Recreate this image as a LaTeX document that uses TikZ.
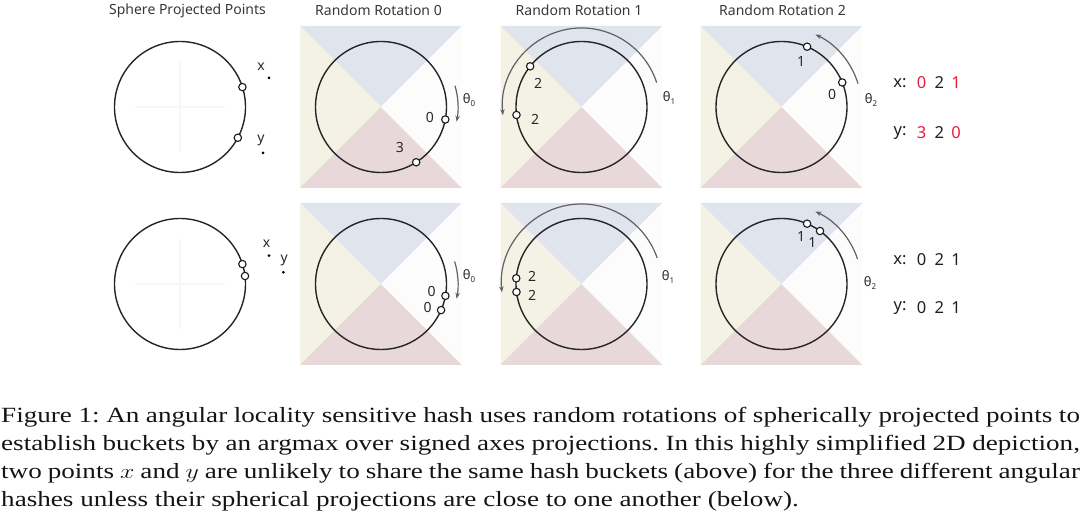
\documentclass[tikz,border=0pt]{standalone}
\usepackage{fontspec}
\setmainfont{Liberation Serif}
\newfontfamily\uifont{Noto Sans}
\usetikzlibrary{arrows.meta}
\definecolor{qTop}{RGB}{224,228,237}
\definecolor{qLeft}{RGB}{244,242,229}
\definecolor{qBot}{RGB}{233,216,217}
\definecolor{qRight}{RGB}{252,252,252}
\definecolor{titlegray}{RGB}{55,55,55}
\definecolor{labgray}{RGB}{40,40,40}
\definecolor{hashred}{RGB}{232,28,58}
\newcommand\bgquads[2]{%
  \fill[qTop] (#1-81,#2+81) -- (#1+81,#2+81) -- (#1,#2) -- cycle;
  \fill[qLeft] (#1-81,#2+81) -- (#1-81,#2-81) -- (#1,#2) -- cycle;
  \fill[qBot] (#1-81,#2-81) -- (#1+81,#2-81) -- (#1,#2) -- cycle;
  \fill[qRight] (#1+81,#2+81) -- (#1+81,#2-81) -- (#1,#2) -- cycle;}
\newcommand\thsub[1]{θ{\fontsize{8}{8}\selectfont\raisebox{-2.5pt}{#1}}}
\begin{document}
\begin{tikzpicture}[x=1pt,y=1pt,
  title/.style={font=\uifont\fontsize{14}{16}\selectfont, text=titlegray, inner sep=0},
  ring/.style={line width=1.4pt, draw=black!85},
  pt/.style={circle, draw=black!90, fill=white, line width=1.1pt, minimum size=7.4pt, inner sep=0},
  dotm/.style={circle, fill=black, minimum size=3pt, inner sep=0},
  lab/.style={font=\uifont\fontsize{14}{16}\selectfont, text=labgray, inner sep=0},
  thlab/.style={font=\uifont\fontsize{13}{15}\selectfont, text=labgray, inner sep=0},
  rot/.style={draw=black!62, line width=1.2pt, -{Stealth[length=6pt,width=4.5pt]}},
  faint/.style={draw=black!3, line width=1.4pt},
  hash/.style={font=\uifont\fontsize{16.5}{18}\selectfont, text=black!88, inner sep=0},
  hred/.style={hash, text=hashred}]
\useasboundingbox (0,0) rectangle (1080,516);

% titles
\node[title] (t1) at (187.5,505.5) {Sphere Projected Points};
\node[title] (t2) at (378.5,505.5) {Random Rotation 0};
\node[title] (t3) at (579,505.5) {Random Rotation 1};
\node[title] (t4) at (782.5,505.5) {Random Rotation 2};

% backgrounds
\bgquads{381}{409}
\bgquads{581.5}{409}
\bgquads{781.5}{409}
\bgquads{381}{232}
\bgquads{581.5}{232}
\bgquads{781.5}{232}

% centers
\coordinate (c1t) at (180,409);
\coordinate (c2t) at (381,409);
\coordinate (c3t) at (581.5,409);
\coordinate (c4t) at (781.5,409);
\coordinate (c1b) at (180,232);
\coordinate (c2b) at (381,232);
\coordinate (c3b) at (581.5,232);
\coordinate (c4b) at (781.5,232);

% faint crosses in panel 1
\draw[faint] (135,409) -- (225,409) (180,364) -- (180,454);
\draw[faint] (135,232) -- (225,232) (180,187) -- (180,277);

% rings
\foreach \c in {c1t,c2t,c3t,c4t,c1b,c2b,c3b,c4b}
  \draw[ring] (\c) circle[radius=65.5];

% ---- top row ----
% panel 1
\path (c1t) ++(17.7:65.5) node[pt] (x1t) {};
\path (c1t) ++(-28:65.5) node[pt] (y1t) {};
\node[dotm] (xd1t) at (269,438) {};
\node[lab] (xl1t) at (261,449) {x};
\node[dotm] (yd1t) at (263,363) {};
\node[lab] (yl1t) at (261,376) {y};
% panel 2
\draw[rot] (c2t) ++(16:77) arc[start angle=16, end angle=-11, radius=77];
\node[thlab] (th2t) at (469,416) {\thsub{0}};
\path (c2t) ++(-11:65.5) node[pt] (x2t) {};
\path (c2t) ++(-57.5:65.5) node[pt] (y2t) {};
\node[lab] (xl2t) at (430,398) {0};
\node[lab] (yl2t) at (400,368) {3};
% panel 3
\draw[rot] (c3t) ++(18:79) arc[start angle=18, end angle=186, radius=79];
\node[thlab] (th3t) at (669,418) {\thsub{1}};
\path (c3t) ++(187:65.5) node[pt] (x3t) {};
\path (c3t) ++(141.6:65.5) node[pt] (y3t) {};
\node[lab] (yl3t) at (538,433) {2};
\node[lab] (xl3t) at (535,397) {2};
% panel 4
\draw[rot] (c4t) ++(17:80) arc[start angle=17, end angle=65, radius=80];
\node[thlab] (th4t) at (871,416) {\thsub{2}};
\path (c4t) ++(67:65.5) node[pt] (x4t) {};
\path (c4t) ++(22:65.5) node[pt] (y4t) {};
\node[lab] (xl4t) at (801,454) {1};
\node[lab] (yl4t) at (832,421) {0};
% hashes
\node[hash] (hx1) at (900,433) {x:};
\node[hred] (hx1a) at (921.7,433) {0};
\node[hash] (hx1b) at (939.3,433) {2};
\node[hred] (hx1c) at (956,433) {1};
\node[hash] (hy1) at (900,383) {y:};
\node[hred] (hy1a) at (921.7,383) {3};
\node[hash] (hy1b) at (939.3,383) {2};
\node[hred] (hy1c) at (956,383) {0};

% ---- bottom row ----
% panel 1
\path (c1b) ++(17.7:65.5) node[pt] (x1b) {};
\path (c1b) ++(7:65.5) node[pt] (y1b) {};
\node[dotm] (xd1b) at (269,260.3) {};
\node[lab] (xl1b) at (266.7,272) {x};
\node[dotm] (yd1b) at (283.3,243.7) {};
\node[lab] (yl1b) at (284.3,256) {y};
% panel 2
\draw[rot] (c2b) ++(17:77) arc[start angle=17, end angle=-11, radius=77];
\node[thlab] (th2b) at (469,240) {\thsub{0}};
\path (c2b) ++(-10.4:65.5) node[pt] (x2b) {};
\path (c2b) ++(-23.5:65.5) node[pt] (y2b) {};
\node[lab] (xl2b) at (431.7,224) {0};
\node[lab] (yl2b) at (427.7,208) {0};
% panel 3
\draw[rot] (c3b) ++(19:80) arc[start angle=19, end angle=186, radius=80];
\node[thlab] (th3b) at (668,239) {\thsub{1}};
\path (c3b) ++(175:65.5) node[pt] (x3b) {};
\path (c3b) ++(187:65.5) node[pt] (y3b) {};
\node[lab] (xl3b) at (532,239.5) {2};
\node[lab] (yl3b) at (532,221) {2};
% panel 4
\draw[rot] (c4b) ++(18:80) arc[start angle=18, end angle=65, radius=80];
\node[thlab] (th4b) at (870,233) {\thsub{2}};
\path (c4b) ++(67:65.5) node[pt] (x4b) {};
\path (c4b) ++(54:65.5) node[pt] (y4b) {};
\node[lab] (xl4b) at (801,279.5) {1};
\node[lab] (yl4b) at (812.3,273) {1};
% hashes
\node[hash] (hx2) at (900,256) {x:};
\node[hash] (hx2a) at (921.7,256) {0};
\node[hash] (hx2b) at (939.3,256) {2};
\node[hash] (hx2c) at (956,256) {1};
\node[hash] (hy2) at (900,208) {y:};
\node[hash] (hy2a) at (921.7,208) {0};
\node[hash] (hy2b) at (939.3,208) {2};
\node[hash] (hy2c) at (956,208) {1};

% caption
\node[anchor=base west, inner sep=0, text=black!92] (cap) at (1,93) {\scalebox{1.25}[1]{\parbox[t]{863pt}{\frenchspacing\fontsize{21.7}{28}\selectfont
Figure 1: An angular locality sensitive hash uses random rotations of spherically projected points to\linebreak
establish buckets by an argmax over signed axes projections. In this highly simplified 2D depiction,\linebreak
two points $x$ and $y$ are unlikely to share the same hash buckets (above) for the three different angular\linebreak
hashes unless their spherical projections are close to one another (below).}}};
\end{tikzpicture}
\end{document}
